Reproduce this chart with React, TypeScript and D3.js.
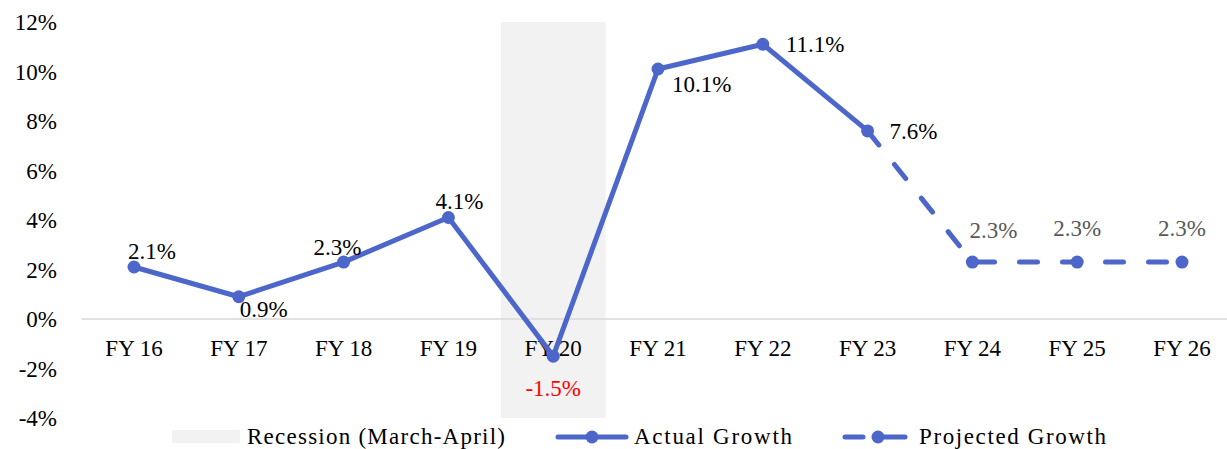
import React from "react";
import * as d3 from "d3";

const categories = ["FY 16", "FY 17", "FY 18", "FY 19", "FY 20", "FY 21", "FY 22", "FY 23", "FY 24", "FY 25", "FY 26"];
const actualGrowth = [2.1, 0.9, 2.3, 4.1, -1.5, 10.1, 11.1, 7.6, null, null, null];
const projectedGrowth = [null, null, null, null, null, null, null, 7.6, 2.3, 2.3, 2.3];
const valueLabels = ["2.1%", "0.9%", "2.3%", "4.1%", "-1.5%", "10.1%", "11.1%", "7.6%", "2.3%", "2.3%", "2.3%"];
const recessionCategories = ["FY 20"];
const yTicks = [-4, -2, 0, 2, 4, 6, 8, 10, 12];
const legendLabels = ["Recession (March-April)", "Actual Growth", "Projected Growth"];

// label placement (layout, not data): dx, dy from point, anchor
const labelPlacement: [number, number, string][] = [
  [-6, -8, "start"],
  [1, 20, "start"],
  [-30, -7, "start"],
  [-13, -9, "start"],
  [0, 40, "middle"],
  [14, 23, "start"],
  [23, 8, "start"],
  [22, 8, "start"],
  [-3, -24, "start"],
  [0, -26, "middle"],
  [0, -26, "middle"],
];

const W = 1227;
const H = 449;
const BLUE = "#4d66c9";
const FONT = "'Liberation Serif', 'Times New Roman', serif";
const FS = 23;

export default function App() {
  const x = d3.scaleBand<string>().domain(categories).range([81.6, 1234.4]).padding(0);
  const y = d3.scaleLinear().domain([-4, 12]).range([418, 22]);
  const cx = (c: string) => (x(c) as number) + x.bandwidth() / 2;

  const line = d3
    .line<[string, number | null]>()
    .defined((d) => d[1] !== null)
    .x((d) => cx(d[0]))
    .y((d) => y(d[1] as number));

  const actualPts = categories.map((c, i) => [c, actualGrowth[i]] as [string, number | null]);
  const projPts = categories.map((c, i) => [c, projectedGrowth[i]] as [string, number | null]);

  return (
    <svg width={W} height={H} style={{ position: "absolute", left: 0, top: 0, fontFamily: FONT }}>
      {recessionCategories.map((c) => (
        <rect key={c} x={x(c)} y={y(12)} width={x.bandwidth()} height={y(-4) - y(12)} fill="#f2f2f2" />
      ))}
      <line x1={81.6} x2={W} y1={y(0)} y2={y(0)} stroke="#d9d9d9" strokeWidth={1.5} />
      {yTicks.map((t) => (
        <text key={t} x={57} y={y(t)} dy="0.35em" textAnchor="end" fontSize={FS} fill="#000">
          {t + "%"}
        </text>
      ))}
      {categories.map((c) => (
        <text key={c} x={cx(c)} y={y(0) + 37} textAnchor="middle" fontSize={FS} fill="#000">
          {c}
        </text>
      ))}
      <path d={line(projPts) || ""} fill="none" stroke={BLUE} strokeWidth={5} strokeDasharray="18 25" strokeLinecap="round" />
      <path d={line(actualPts) || ""} fill="none" stroke={BLUE} strokeWidth={5} strokeLinejoin="round" />
      {actualPts.filter((d) => d[1] !== null).map((d) => (
        <circle key={"a" + d[0]} cx={cx(d[0])} cy={y(d[1] as number)} r={6.5} fill={BLUE} />
      ))}
      {projPts.filter((d, i) => d[1] !== null && actualGrowth[i] === null).map((d) => (
        <circle key={"p" + d[0]} cx={cx(d[0])} cy={y(d[1] as number)} r={6.5} fill={BLUE} />
      ))}
      {categories.map((c, i) => {
        const v = actualGrowth[i] !== null ? actualGrowth[i] : projectedGrowth[i];
        const [dx, dy, anchor] = labelPlacement[i];
        const color = v !== null && v < 0 ? "#ff0000" : actualGrowth[i] === null ? "#595959" : "#000";
        return (
          <text key={"l" + c} x={cx(c) + dx} y={y(v as number) + dy} textAnchor={anchor as any} fontSize={FS} fill={color}>
            {valueLabels[i]}
          </text>
        );
      })}
      {/* legend */}
      <g fontSize={FS} fill="#000">
        <rect x={172} y={430} width={68} height={13} fill="#f2f2f2" />
        <text x={247} y={444} textLength={258} lengthAdjust="spacing">{legendLabels[0]}</text>
        <line x1={558} x2={626} y1={437} y2={437} stroke={BLUE} strokeWidth={5} strokeLinecap="round" />
        <circle cx={592} cy={437} r={6.5} fill={BLUE} />
        <text x={634} y={444} textLength={158} lengthAdjust="spacing">{legendLabels[1]}</text>
        <line x1={845} x2={863} y1={437} y2={437} stroke={BLUE} strokeWidth={5} strokeLinecap="round" />
        <line x1={880} x2={905} y1={437} y2={437} stroke={BLUE} strokeWidth={5} strokeLinecap="round" />
        <circle cx={878} cy={437} r={6.5} fill={BLUE} />
        <text x={919} y={444} textLength={187} lengthAdjust="spacing">{legendLabels[2]}</text>
      </g>
    </svg>
  );
}
